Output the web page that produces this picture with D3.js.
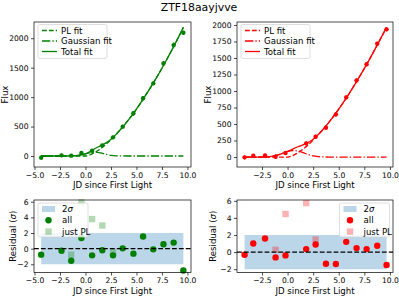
<!DOCTYPE html>
<html>
<head>
<meta charset="utf-8">
<script src="https://cdn.jsdelivr.net/npm/d3@7"></script>
<style>
  body { margin: 0; background: #fff; }
  svg { display: block; font-family: "DejaVu Sans", sans-serif; }
</style>
</head>
<body>
<div id="chart"></div>
<script>
// light curve fits for ZTF18aayjvve, g band (left) and r band (right)

const title = "ZTF18aayjvve";

// g band observations
const gJD = [-4.35, -2.35, -1.4, -0.4, 0.65, 1.65, 2.7, 3.65, 4.7, 5.65, 6.65, 7.65, 8.65, 9.6];
const gFlux = [-28, 11, 6, 51, 90, 181, 317, 498, 725, 980, 1234, 1573, 1884, 2093];
const gErr = [35, 30, 22, 25, 25, 28, 28, 32, 40, 38, 32, 40, 42, 33];
const gResAll = [-0.77, -0.26, -1.55, 1.37, -0.86, -0.21, -0.86, 0.04, -0.64, 1.55, -0.09, 0.56, 0.77, -2.79];
const gResPLJD = [-1.4, -0.4, 0.65, 1.65, 2.7];
const gResPL = [-0.77, 5.92, 3.78, 2.96, -0.43];

// g band fit curves
const gFitJD = [-4.35, -3, -2, -1, -0.5, 0, 0.5, 1, 1.5, 2, 2.5, 3, 3.5, 4, 5, 6, 7, 8, 9, 9.6];
const gPL = [0, 0, 0, 0, 0, 0, 23, 67, 125, 195, 275, 364, 461, 566, 797, 1059, 1340, 1648, 1976, 2185];
const gGauss = [0, 0, 0, 5, 17, 37, 58, 65, 51, 28, 11, 3, 1, 0, 0, 0, 0, 0, 0, 0];
const gTotal = [0, 0, 0, 5, 17, 37, 81, 132, 176, 223, 286, 367, 462, 566, 797, 1059, 1340, 1648, 1976, 2185];

// r band observations
const rJD = [-4.2, -3.35, -2.2, -1.17, -0.2, 1.82, 2.74, 3.75, 4.72, 5.73, 6.74, 7.72, 8.76, 9.67];
const rFlux = [-5, 20, 25, 5, 60, 207, 308, 444, 646, 904, 1161, 1404, 1717, 1934];
const rErr = [30, 25, 25, 35, 28, 28, 28, 30, 35, 30, 30, 30, 30, 30];
const rResAll = [-0.31, 1.0, 1.59, -0.62, -0.39, 0.35, 0.89, -1.36, -1.4, 1.2, 0.47, 0.35, 0.74, -1.51];
const rResPLJD = [-1.17, -0.2, 1.82, 2.74];
const rResPL = [0.27, 4.46, 5.74, 1.47];

// r band fit curves
const rFitJD = [-4.2, -3, -2, -1.5, -1, -0.5, 0, 0.5, 1, 1.5, 2, 2.5, 3, 3.5, 4, 5, 6, 7, 8, 9, 9.67];
const rPL = [0, 0, 0, 0, 0, 0, 0, 22, 64, 118, 182, 255, 336, 424, 518, 726, 957, 1209, 1479, 1766, 1965];
const rGauss = [0, 0, 3, 11, 28, 55, 84, 99, 92, 67, 38, 16, 6, 1.5, 0, 0, 0, 0, 0, 0, 0];
const rTotal = [0, 0, 3, 11, 28, 55, 84, 121, 156, 185, 220, 271, 342, 425, 518, 726, 957, 1209, 1479, 1766, 1965];

// ticks
const xTicksLeft = [-5, -2.5, 0, 2.5, 5, 7.5, 10];
const xTicksRight = [-2.5, 0, 2.5, 5, 7.5, 10];
const fluxTicksLeft = [0, 500, 1000, 1500, 2000];
const fluxTicksRight = [0, 250, 500, 750, 1000, 1250, 1500, 1750, 2000];
const resTicks = [-2, 0, 2, 4, 6];

const fitLabels = ["PL fit", "Gaussian fit", "Total fit"];
const resLabels = ["2σ", "all", "just PL"];

const width = 399, height = 297;
const tickFont = 7.6, labelFont = 8.6;

const svg = d3.select("#chart").append("svg")
    .attr("width", width)
    .attr("height", height);

svg.append("text")
    .attr("x", 199)
    .attr("y", 10.5)
    .attr("text-anchor", "middle")
    .attr("font-size", 10.9)
    .text(title);

const dash = "4.8,2.1";
const dashDot = "8.3,2.1,1.3,2.1";

// draws frame, ticks and labels; returns the group
function makeAxes(box, x, y, xTicks, yTicks, xFmt, yLabel, yLabelX) {
    const g = svg.append("g");
    const xAxis = g.append("g")
        .attr("transform", `translate(0,${box.y1})`)
        .call(d3.axisBottom(x).tickValues(xTicks).tickFormat(xFmt).tickSize(3).tickPadding(2.5).tickSizeOuter(0));
    const yAxis = g.append("g")
        .attr("transform", `translate(${box.x0},0)`)
        .call(d3.axisLeft(y).tickValues(yTicks).tickFormat(d3.format("d")).tickSize(3).tickPadding(2.5).tickSizeOuter(0));
    for (const a of [xAxis, yAxis]) {
        a.select(".domain").remove();
        a.selectAll("line").attr("stroke-width", 0.7);
        a.selectAll("text").attr("font-size", tickFont).attr("font-family", "DejaVu Sans").attr("fill", "#000");
    }
    g.append("text")
        .attr("x", (box.x0 + box.x1) / 2)
        .attr("y", box.y1 + 21)
        .attr("text-anchor", "middle")
        .attr("font-size", labelFont)
        .text("JD since First Light");
    const yl = g.append("text")
        .attr("transform", `translate(${yLabelX},${(box.y0 + box.y1) / 2}) rotate(-90)`)
        .attr("text-anchor", "middle")
        .attr("font-size", labelFont);
    if (yLabel === "res") {
        yl.append("tspan").text("Residual (");
        yl.append("tspan").attr("font-style", "italic").text("σ");
        yl.append("tspan").text(")");
    } else {
        yl.text(yLabel);
    }
    return g;
}

function frame(box) {
    svg.append("rect")
        .attr("x", box.x0).attr("y", box.y0)
        .attr("width", box.x1 - box.x0).attr("height", box.y1 - box.y0)
        .attr("fill", "none").attr("stroke", "#000").attr("stroke-width", 0.7);
}

function fluxPanel(box, xDom, yDom, xTicks, yTicks, color, jd, flux, err, fitJD, pl, gauss, total, yLabelX) {
    const x = d3.scaleLinear().domain(xDom).range([box.x0, box.x1]);
    const y = d3.scaleLinear().domain(yDom).range([box.y1, box.y0]);
    makeAxes(box, x, y, xTicks, yTicks, d3.format(".1f"), "Flux", yLabelX);

    const g = svg.append("g");
    const pts = jd.map((d, i) => ({ t: d, f: flux[i], e: err[i] }));
    g.selectAll("line.err").data(pts).join("line")
        .attr("x1", d => x(d.t)).attr("x2", d => x(d.t))
        .attr("y1", d => y(d.f - d.e)).attr("y2", d => y(d.f + d.e))
        .attr("stroke", color).attr("stroke-width", 1.2);
    g.selectAll("circle").data(pts).join("circle")
        .attr("cx", d => x(d.t)).attr("cy", d => y(d.f))
        .attr("r", 2.2).attr("fill", color);

    const line = d3.line().x(d => x(d[0])).y(d => y(d[1])).curve(d3.curveMonotoneX);
    const curves = [
        { v: pl, dash: dash },
        { v: gauss, dash: dashDot },
        { v: total, dash: null }
    ];
    g.selectAll("path.fit").data(curves).join("path")
        .attr("fill", "none")
        .attr("stroke", color)
        .attr("stroke-width", 1.3)
        .attr("stroke-dasharray", d => d.dash)
        .attr("d", d => line(fitJD.map((t, i) => [t, d.v[i]])));

    frame(box);

    // legend
    const lx = box.x0 + 4, ly = box.y0 + 2.5;
    const lg = svg.append("g").attr("transform", `translate(${lx},${ly})`);
    lg.append("rect").attr("width", 69).attr("height", 34).attr("rx", 2)
        .attr("fill", "#fff").attr("fill-opacity", 0.8)
        .attr("stroke", "#d6d6d6").attr("stroke-width", 0.8);
    const rows = lg.selectAll("g").data(fitLabels).join("g")
        .attr("transform", (d, i) => `translate(0,${6 + i * 10.5})`);
    rows.append("line").attr("x1", 4).attr("x2", 19)
        .attr("stroke", color).attr("stroke-width", 1.3)
        .attr("stroke-dasharray", (d, i) => curves[i].dash);
    rows.append("text").attr("x", 23).attr("dy", "0.35em")
        .attr("font-size", labelFont).text(d => d);
}

function resPanel(box, xDom, yDom, xTicks, color, jd, resAll, plJD, resPL, yLabelX, legendX) {
    const x = d3.scaleLinear().domain(xDom).range([box.x0, box.x1]);
    const y = d3.scaleLinear().domain(yDom).range([box.y1, box.y0]);
    makeAxes(box, x, y, xTicks, resTicks, d3.format(".1f"), "res", yLabelX);

    const g = svg.append("g");
    const band = d3.area().x(d => x(d)).y0(y(-2)).y1(y(2));
    g.append("path")
        .attr("d", band([jd[0], jd[jd.length - 1]]))
        .attr("fill", "#1f77b4").attr("fill-opacity", 0.3);

    g.selectAll("circle").data(jd.map((d, i) => [d, resAll[i]])).join("circle")
        .attr("cx", d => x(d[0])).attr("cy", d => y(d[1]))
        .attr("r", 3.2).attr("fill", color);
    const s = 6.4;
    g.selectAll("rect").data(plJD.map((d, i) => [d, resPL[i]])).join("rect")
        .attr("x", d => x(d[0]) - s / 2).attr("y", d => y(d[1]) - s / 2)
        .attr("width", s).attr("height", s)
        .attr("fill", color).attr("fill-opacity", 0.3);

    g.append("line")
        .attr("x1", box.x0).attr("x2", box.x1)
        .attr("y1", y(0)).attr("y2", y(0))
        .attr("stroke", "#000").attr("stroke-width", 1.3)
        .attr("stroke-dasharray", dash);

    frame(box);

    // legend
    const lg = svg.append("g").attr("transform", `translate(${legendX},${box.y0 + 3})`);
    lg.append("rect").attr("width", 50).attr("height", 34).attr("rx", 2)
        .attr("fill", "#fff").attr("fill-opacity", 0.8)
        .attr("stroke", "#d6d6d6").attr("stroke-width", 0.8);
    const rows = lg.selectAll("g").data(resLabels).join("g")
        .attr("transform", (d, i) => `translate(0,${6 + i * 11.3})`);
    rows.filter((d, i) => i === 0).append("rect")
        .attr("x", 4).attr("y", -3).attr("width", 13).attr("height", 6)
        .attr("fill", "#1f77b4").attr("fill-opacity", 0.3);
    rows.filter((d, i) => i === 1).append("circle")
        .attr("cx", 10.5).attr("r", 3.2).attr("fill", color);
    rows.filter((d, i) => i === 2).append("rect")
        .attr("x", 10.5 - s / 2).attr("y", -s / 2).attr("width", s).attr("height", s)
        .attr("fill", color).attr("fill-opacity", 0.3);
    rows.each(function(d, i) {
        const t = d3.select(this).append("text").attr("x", 24).attr("dy", "0.35em")
            .attr("font-size", labelFont);
        if (i === 0) {
            t.append("tspan").text("2");
            t.append("tspan").attr("font-style", "italic").text("σ");
        } else {
            t.text(d);
        }
    });
}

const boxTL = { x0: 34, x1: 191, y0: 22, y1: 167 };
const boxTR = { x0: 237, x1: 393, y0: 22, y1: 167 };
const boxBL = { x0: 34, x1: 191, y0: 200, y1: 272.5 };
const boxBR = { x0: 237, x1: 393, y0: 200, y1: 272.5 };

const xDomL = [-5.05, 10.35];
const xDomR = [-4.94, 10.3];

fluxPanel(boxTL, xDomL, [-187, 2276], xTicksLeft, fluxTicksLeft, "green",
    gJD, gFlux, gErr, gFitJD, gPL, gGauss, gTotal, 8);
fluxPanel(boxTR, xDomR, [-151, 2045], xTicksRight, fluxTicksRight, "red",
    rJD, rFlux, rErr, rFitJD, rPL, rGauss, rTotal, 211);
resPanel(boxBL, xDomL, [-3.05, 6.22], xTicksLeft, "green",
    gJD, gResAll, gResPLJD, gResPL, 15.5, 38);
resPanel(boxBR, xDomR, [-2.39, 6.1], xTicksRight, "red",
    rJD, rResAll, rResPLJD, rResPL, 216, 339.5);
</script>
</body>
</html>
